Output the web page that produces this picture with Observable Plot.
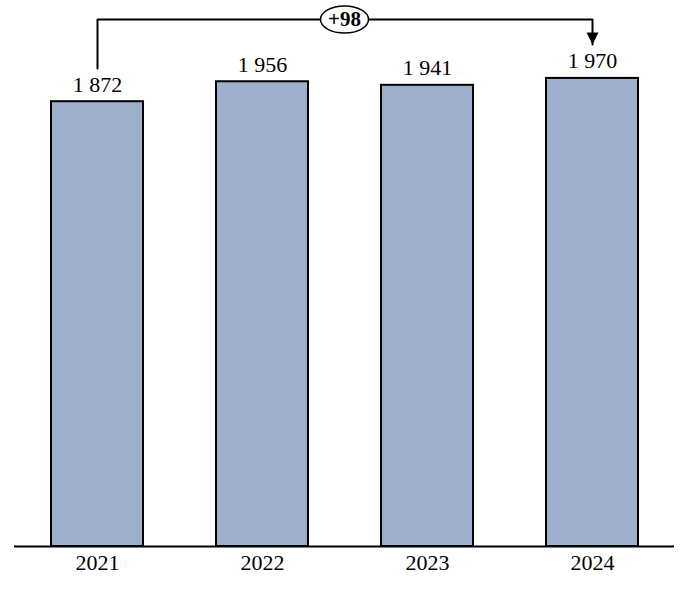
<!DOCTYPE html>
<html>
<head>
<meta charset="utf-8">
<script src="https://cdn.jsdelivr.net/npm/d3@7"></script>
<script src="https://cdn.jsdelivr.net/npm/@observablehq/plot@0.6"></script>
<style>
  html, body { margin: 0; padding: 0; background: #fff; }
</style>
</head>
<body>
<div id="chart"></div>
<script>
const years = ["2021", "2022", "2023", "2024"];
const values = [1872, 1956, 1941, 1970];

const data = years.map((year, i) => ({year, value: values[i]}));
const first = data[0], last = data[data.length - 1];
const change = last.value - first.value;

// Annotation levels (in value units)
const bracketLevel = 2218;
const leftLegEnd = 2012;
const arrowTip = 2113;

const fmt = d3.formatLocale({thousands: "\u00a0", grouping: [3], decimal: ","}).format(",");

const ellipse = {
  draw(ctx) {
    const rx = 24, ry = 13.5, k = 0.5523;
    ctx.moveTo(rx, 0);
    ctx.bezierCurveTo(rx, ry * k, rx * k, ry, 0, ry);
    ctx.bezierCurveTo(-rx * k, ry, -rx, ry * k, -rx, 0);
    ctx.bezierCurveTo(-rx, -ry * k, -rx * k, -ry, 0, -ry);
    ctx.bezierCurveTo(rx * k, -ry, rx, -ry * k, rx, 0);
    ctx.closePath();
  }
};
const arrowHead = {
  draw(ctx) {
    ctx.moveTo(-6, -12);
    ctx.lineTo(6, -12);
    ctx.lineTo(0, 0);
    ctx.closePath();
  }
};

const bracket = [
  {year: first.year, y: leftLegEnd},
  {year: first.year, y: bracketLevel},
  {year: last.year, y: bracketLevel},
  {year: last.year, y: arrowTip}
];

const chart = Plot.plot({
  width: 689,
  height: 590,
  marginLeft: 14,
  marginRight: 15,
  marginTop: 19,
  marginBottom: 44,
  style: {fontFamily: "'Liberation Serif', serif", fontSize: "22px", color: "#000", background: "#fff"},
  x: {domain: years, paddingInner: 0.445, paddingOuter: 0.2225, tickSize: 0, tickPadding: 8, label: null},
  y: {domain: [0, bracketLevel], axis: null},
  marks: [
    Plot.barY(data, {x: "year", y: "value", fill: "#9dafcd", stroke: "#000", strokeWidth: 2}),
    Plot.ruleY([0], {stroke: "#000", strokeWidth: 2}),
    Plot.text(data, {x: "year", y: "value", text: d => fmt(d.value), lineAnchor: "bottom", dy: -10, fontSize: 22, fill: "#000"}),
    Plot.line(bracket, {x: "year", y: "y", stroke: "#000", strokeWidth: 2, curve: "linear"}),
    Plot.dot([{year: last.year, y: arrowTip}], {x: "year", y: "y", symbol: arrowHead, fill: "#000", stroke: "none"}),
    Plot.dot([{y: bracketLevel}], {y: "y", symbol: ellipse, fill: "#fff", stroke: "#000", strokeWidth: 1.5}),
    Plot.text([{y: bracketLevel}], {y: "y", text: () => "+" + change, fontWeight: "bold", fontSize: 21, fill: "#000"})
  ]
});
document.getElementById("chart").appendChild(chart);
</script>
</body>
</html>
